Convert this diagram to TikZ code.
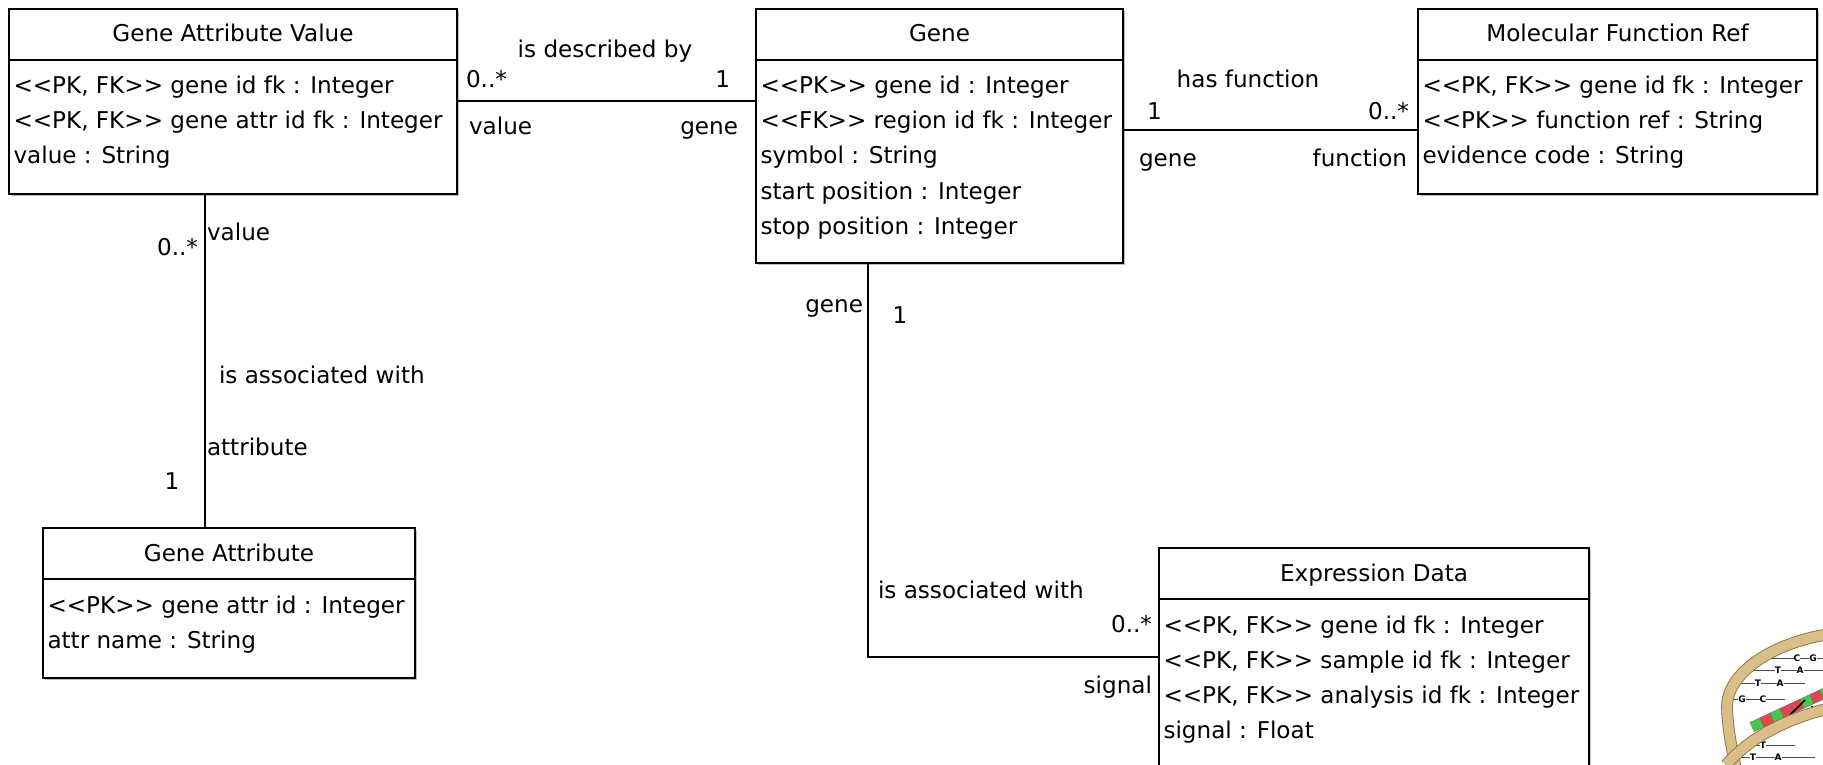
\documentclass[tikz,border=0pt]{standalone}
\usepackage{fontspec}
\setmainfont{DejaVu Sans}
\usetikzlibrary{calc,shadows}

% double angle brackets kept as two separate characters
\newcommand\sopen{<\kern0pt<}
\newcommand\sclose{>\kern0pt>}

\definecolor{helixfill}{RGB}{218,190,138}
\definecolor{helixedge}{RGB}{150,112,60}
\definecolor{dnagreen}{RGB}{70,200,70}
\definecolor{dnared}{RGB}{225,70,80}

\tikzset{
  classbox/.style={draw, line width=1.7pt, fill=white, anchor=north west,
    inner sep=0pt, outer sep=0pt,
    drop shadow={shadow xshift=1.8pt, shadow yshift=-1.8pt, fill=black!25, opacity=1}},
  txt/.style={font=\fontsize{23.1}{23.1}\selectfont, inner sep=0pt, outer sep=0pt, anchor=base},
  attr/.style={txt, anchor=base west},
  assoc/.style={line width=1.7pt},
  helixband/.style={draw=helixedge, line width=0.9pt, double=helixfill, double distance=10pt},
  rung/.style={line width=0.8pt, draw=black!70},
  base/.style={font=\bfseries\fontsize{9}{9}\selectfont, inner sep=0pt, fill=white},
}

\begin{document}
\begin{tikzpicture}[x=1pt, y=-1pt]
\useasboundingbox (0,0) rectangle (1823,765);
\fill[white] (0,0) rectangle (1823,765);

% ---------------- classes ----------------
\node[classbox, minimum width=448pt, minimum height=185pt] (gav) at (9,9) {};
\node[classbox, minimum width=367pt, minimum height=254pt] (gene) at (756,9) {};
\node[classbox, minimum width=399pt, minimum height=185pt] (mfr) at (1418,9) {};
\node[classbox, minimum width=372pt, minimum height=150pt] (ga) at (43,528) {};
\node[classbox, minimum width=430pt, minimum height=240pt] (ed) at (1159,548) {};

% header separators
\foreach \b in {gav,gene,mfr,ga,ed}
  \draw[line width=1.7pt] ($(\b.north west)+(0,51)$) -- ($(\b.north east)+(0,51)$);

% titles
\node[txt] (gav-t)  at ($(gav.north)+(0,33)$)  {Gene Attribute Value};
\node[txt] (gene-t) at ($(gene.north)+(0,33)$) {Gene};
\node[txt] (mfr-t)  at ($(mfr.north)+(0,33)$)  {Molecular Function Ref};
\node[txt] (ga-t)   at ($(ga.north)+(0,33)$)   {Gene Attribute};
\node[txt] (ed-t)   at ($(ed.north)+(0,33)$)   {Expression Data};

% attributes, one row every 35pt
\foreach \t [count=\i from 0] in {
    {\sopen PK, FK\sclose{} gene id fk : Integer},
    {\sopen PK, FK\sclose{} gene attr id fk : Integer},
    {value : String}}
  \node[attr] (gav-\i) at ($(gav.north west)+(4.5,85+35*\i)$) {\t};

\foreach \t [count=\i from 0] in {
    {\sopen PK\sclose{} gene id : Integer},
    {\sopen FK\sclose{} region id fk : Integer},
    {symbol : String},
    {start position : Integer},
    {stop position : Integer}}
  \node[attr] (gene-\i) at ($(gene.north west)+(4.5,85+35*\i)$) {\t};

\foreach \t [count=\i from 0] in {
    {\sopen PK, FK\sclose{} gene id fk : Integer},
    {\sopen PK\sclose{} function ref : String},
    {evidence code : String}}
  \node[attr] (mfr-\i) at ($(mfr.north west)+(4.5,85+35*\i)$) {\t};

\foreach \t [count=\i from 0] in {
    {\sopen PK\sclose{} gene attr id : Integer},
    {attr name : String}}
  \node[attr] (ga-\i) at ($(ga.north west)+(4.5,85+35*\i)$) {\t};

\foreach \t [count=\i from 0] in {
    {\sopen PK, FK\sclose{} gene id fk : Integer},
    {\sopen PK, FK\sclose{} sample id fk : Integer},
    {\sopen PK, FK\sclose{} analysis id fk : Integer},
    {signal : Float}}
  \node[attr] (ed-\i) at ($(ed.north west)+(4.5,85+35*\i)$) {\t};

% ---------------- associations ----------------
% Gene Attribute Value -- Gene
\draw[assoc] ($(gav.north east)+(0,92)$) -- ($(gene.north west)+(0,92)$);
\node[txt] (l1a) at (605,58) {is described by};
\node[txt, anchor=base west] (l1b) at (466,88) {0..*};
\node[txt, anchor=base east] (l1c) at (730,88) {1};
\node[txt, anchor=base west] (l1d) at (469,135) {value};
\node[txt, anchor=base east] (l1e) at (738,135) {gene};

% Gene -- Molecular Function Ref
\draw[assoc] ($(gene.north east)+(0,121)$) -- ($(mfr.north west)+(0,121)$);
\node[txt] (l2a) at (1248,88) {has function};
\node[txt, anchor=base west] (l2b) at (1147,120) {1};
\node[txt, anchor=base east] (l2c) at (1409,120) {0..*};
\node[txt, anchor=base west] (l2d) at (1139,167) {gene};
\node[txt, anchor=base east] (l2e) at (1407,167) {function};

% Gene Attribute Value -- Gene Attribute
\coordinate (gavdown) at ($(gav.south west)+(196,0)$);
\draw[assoc] (gavdown) -- (gavdown |- ga.north);
\node[txt, anchor=base east] (l3a) at (198,255) {0..*};
\node[txt, anchor=base west] (l3b) at (207,240) {value};
\node[txt, anchor=base west] (l3c) at (219,383) {is associated with};
\node[txt, anchor=base west] (l3d) at (207,455) {attribute};
\node[txt] (l3e) at (172,489) {1};

% Gene -- Expression Data
\coordinate (genedown) at ($(gene.south west)+(112,0)$);
\coordinate (edin) at ($(ed.north west)+(0,109)$);
\draw[assoc] (genedown) |- (edin);
\node[txt, anchor=base east] (l4a) at (863,312) {gene};
\node[txt] (l4b) at (900,323) {1};
\node[txt, anchor=base west] (l4c) at (878,598) {is associated with};
\node[txt, anchor=base east] (l4d) at (1152,632) {0..*};
\node[txt, anchor=base east] (l4e) at (1152,693) {signal};

% ---------------- DNA emblem ----------------
\begin{scope}
\clip (1690,625) rectangle (1823,765);
% base-pair rungs
\draw[rung] (1750,658) -- (1823,658);
\draw[rung] (1746,670) -- (1823,670);
\draw[rung] (1738,683) -- (1805,683);
\draw[rung] (1730,699) -- (1785,699);
\draw[rung] (1730,745) -- (1795,745);
\draw[rung] (1733,757) -- (1815,757);
\node[base] (b1) at (1797,658) {C}; \node[base] (b2) at (1813,658) {G};
\node[base] (b3) at (1778,670) {T}; \node[base] (b4) at (1800,670) {A};
\node[base] (b5) at (1758,683) {T}; \node[base] (b6) at (1780,683) {A};
\node[base] (b7) at (1742,699) {G}; \node[base] (b8) at (1763,699) {C};
\node[base] (b9) at (1743,745) {A}; \node[base] (b10) at (1763,745) {T};
\node[base] (b11) at (1753,757) {T}; \node[base] (b12) at (1778,757) {A};
% coloured sequence strip
\begin{scope}[shift={(1752,727)}, rotate=25]
  \foreach \k/\c in {0/dnagreen,1/dnared,2/dnagreen,3/dnared,4/dnared,5/dnagreen,6/dnared,7/dnagreen}
    \fill[\c, draw=black!60, line width=0.3pt] (\k*11,-5) rectangle (\k*11+11,5);
\end{scope}
\draw[line width=1.6pt] (1790,715) -- (1805,700);
\node[font=\bfseries\fontsize{7}{7}\selectfont, inner sep=0pt] (nuc) at (1818,709) {Nuc};
% the two strands of the helix
\draw[helixband] (1830,634) .. controls (1775,642) and (1726,672) .. (1727,708)
                 .. controls (1728,735) and (1733,752) .. (1737,775);
\draw[helixband] (1726,765) .. controls (1752,735) and (1790,718) .. (1830,708);
\end{scope}

\end{tikzpicture}
\end{document}
